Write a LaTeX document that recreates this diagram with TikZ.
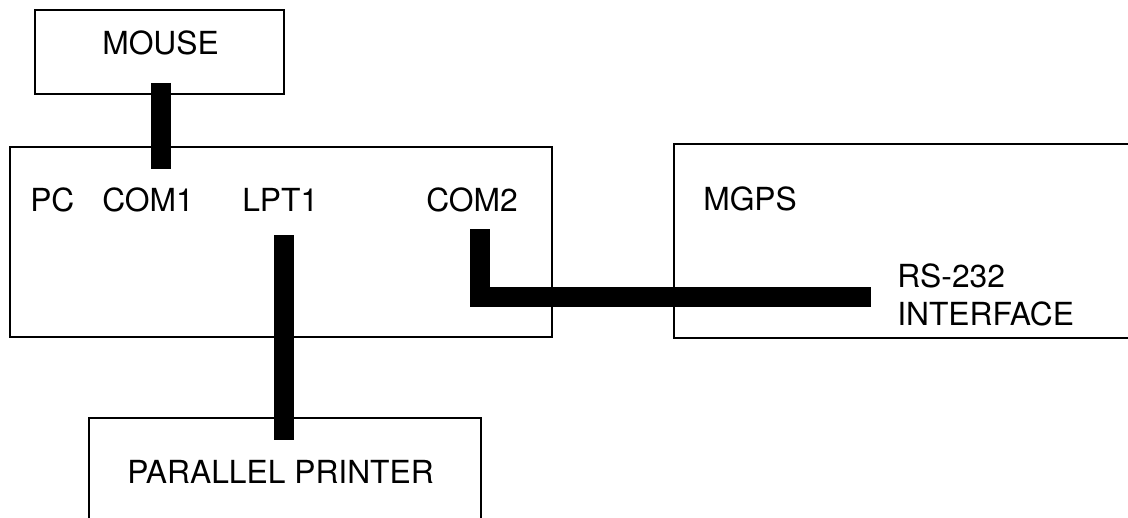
\documentclass[tikz,border=0pt]{standalone}
\usepackage{fontspec}
\setmainfont{TeX Gyre Heros}
\usepackage{tikz}
\usetikzlibrary{positioning, calc}

\begin{document}
\begin{tikzpicture}[
    x=0.025cm, y=-0.025cm,
    font=\fontsize{22.6}{27}\selectfont,
    unit/.style={rectangle, draw, line width=1.4pt, inner sep=0pt},
    label/.style={inner sep=0pt, anchor=base west},
    cable/.style={line width=0.5cm, line cap=butt, line join=miter}
  ]
    \clip (0,0) rectangle (1128,518);

    % Devices
    \node[unit, minimum width=6.225cm, minimum height=2.1cm] (MOUSE) at (159.5,52) {};
    \node[unit, minimum width=13.55cm, minimum height=4.75cm] (PC) at (281,242) {};
    \node[unit, minimum width=12.65cm, minimum height=4.85cm] (MGPS) at (927,241) {};
    \node[unit, minimum width=9.8cm, minimum height=4.05cm] (PRN) at (285,499) {};

    % Texts
    \node[label] (tMOUSE) at (102,55) {MOUSE};
    \node[label] (tPC) at (30,211) {PC};
    \node[label] (tCOM1) at (102,211) {COM1};
    \node[label] (tLPT1) at (242,211) {LPT1};
    \node[label] (tCOM2) at (426,211) {COM2};
    \node[label] (tMGPS) at (703,210) {MGPS};
    \node[label] (tRS) at (897,287) {RS-232};
    \node[label] (tIF) at (897,325) {INTERFACE};
    \node[label] (tPRN) at (127,483) {PARALLEL PRINTER};

    % Cable ends
    \coordinate (mouseOut) at (161,83);
    \coordinate (com1In) at (161,169);
    \coordinate (lpt1Out) at (283.5,235);
    \coordinate (prnIn) at (283.5,440);
    \coordinate (com2Out) at (479.5,229);
    \coordinate (rsIn) at (871,297);

    \draw[cable] (mouseOut) -- (com1In);
    \draw[cable] (lpt1Out) -- (prnIn);
    \draw[cable] (com2Out) |- (rsIn);
\end{tikzpicture}
\end{document}
